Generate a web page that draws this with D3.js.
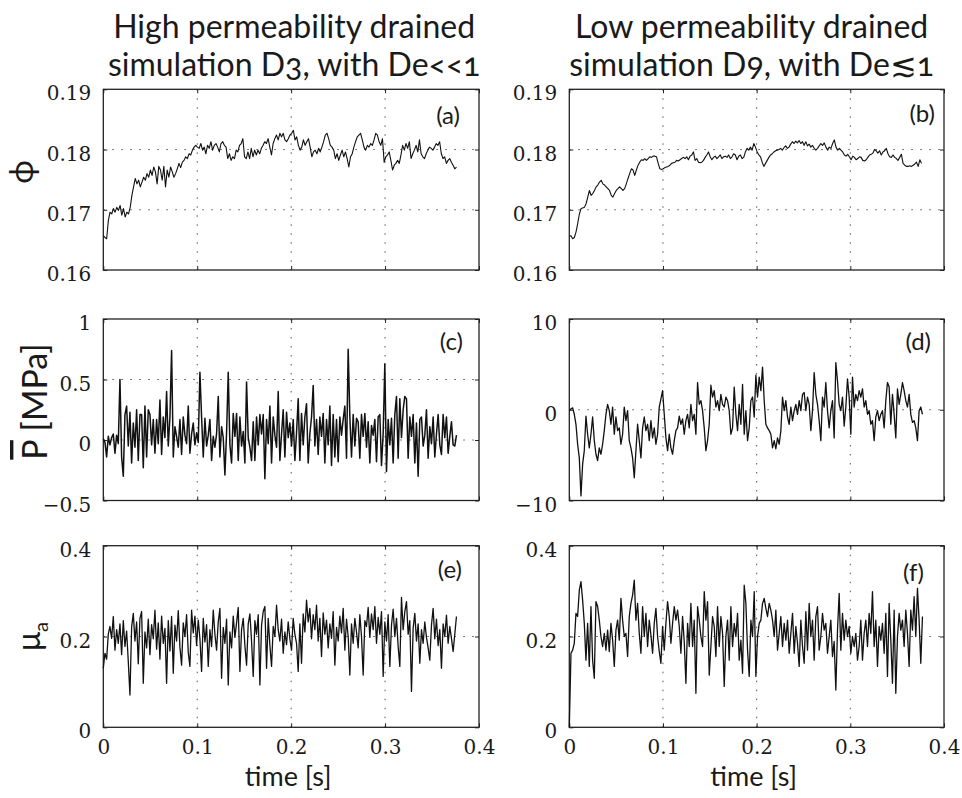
<!DOCTYPE html>
<html>
<head>
<meta charset="utf-8">
<script src="https://cdn.jsdelivr.net/npm/d3@7"></script>
<style>
  body { margin: 0; background: #fff; }
  .grid { stroke: #555; stroke-width: 1; stroke-dasharray: 1.5, 7.5; }
  .frame { fill: none; stroke: #222; stroke-width: 1.3; }
  .trace { fill: none; stroke: #111; stroke-linejoin: round; }
  .sans { font-family: Lato, "Open Sans", sans-serif; fill: #1a1a1a; font-variant-numeric: oldstyle-nums; }
  .tick text { font-family: "DejaVu Serif", "Liberation Serif", serif; font-size: 20px; fill: #1a1a1a; }
</style>
</head>
<body>
<svg id="chart" width="962" height="798"></svg>
<script>
// porosity, high permeability (a)
var phiHigh = [0.1657,0.1654,0.1652,0.1682,0.1696,0.1693,0.1702,0.1696,0.1704,0.1699,0.1707,0.1691,0.1702,0.1688,0.1696,0.1693,0.1704,0.1724,0.1738,0.1752,0.1743,0.1749,0.1738,0.1746,0.1754,0.1749,0.1760,0.1754,0.1766,0.1757,0.1771,0.1763,0.1743,0.1772,0.1766,0.1749,0.1772,0.1738,0.1766,0.1754,0.1771,0.1763,0.1754,0.1760,0.1768,0.1777,0.1770,0.1779,0.1782,0.1788,0.1785,0.1793,0.1791,0.1799,0.1804,0.1807,0.1804,0.1802,0.1810,0.1799,0.1804,0.1793,0.1807,0.1802,0.1813,0.1799,0.1807,0.1810,0.1804,0.1796,0.1810,0.1813,0.1807,0.1804,0.1785,0.1793,0.1782,0.1788,0.1785,0.1799,0.1796,0.1807,0.1810,0.1818,0.1788,0.1785,0.1796,0.1785,0.1802,0.1788,0.1799,0.1791,0.1799,0.1793,0.1802,0.1807,0.1813,0.1810,0.1818,0.1804,0.1791,0.1810,0.1818,0.1824,0.1816,0.1827,0.1821,0.1827,0.1816,0.1813,0.1818,0.1824,0.1827,0.1832,0.1816,0.1821,0.1807,0.1799,0.1804,0.1816,0.1807,0.1813,0.1818,0.1804,0.1788,0.1796,0.1799,0.1793,0.1802,0.1796,0.1804,0.1813,0.1824,0.1827,0.1818,0.1807,0.1804,0.1799,0.1785,0.1793,0.1782,0.1791,0.1799,0.1788,0.1796,0.1785,0.1771,0.1788,0.1793,0.1804,0.1813,0.1821,0.1824,0.1827,0.1816,0.1804,0.1799,0.1807,0.1804,0.1810,0.1807,0.1816,0.1827,0.1824,0.1813,0.1807,0.1818,0.1779,0.1788,0.1791,0.1796,0.1782,0.1766,0.1774,0.1777,0.1782,0.1777,0.1791,0.1807,0.1799,0.1810,0.1802,0.1813,0.1785,0.1793,0.1799,0.1807,0.1796,0.1816,0.1793,0.1788,0.1785,0.1793,0.1799,0.1804,0.1802,0.1799,0.1804,0.1810,0.1807,0.1813,0.1793,0.1785,0.1788,0.1777,0.1782,0.1785,0.1779,0.1774,0.1768,0.1771];

// porosity, low permeability (b)
var phiLow = [0.1656,0.1657,0.1652,0.1654,0.1663,0.1677,0.1693,0.1702,0.1703,0.1704,0.1710,0.1721,0.1732,0.1724,0.1727,0.1732,0.1738,0.1741,0.1746,0.1749,0.1743,0.1741,0.1738,0.1735,0.1732,0.1724,0.1721,0.1727,0.1732,0.1735,0.1738,0.1735,0.1732,0.1735,0.1743,0.1752,0.1760,0.1768,0.1766,0.1757,0.1766,0.1774,0.1779,0.1783,0.1782,0.1785,0.1782,0.1785,0.1788,0.1787,0.1789,0.1789,0.1788,0.1777,0.1768,0.1767,0.1768,0.1770,0.1771,0.1772,0.1774,0.1777,0.1778,0.1779,0.1782,0.1781,0.1783,0.1785,0.1787,0.1785,0.1788,0.1783,0.1789,0.1791,0.1796,0.1782,0.1785,0.1779,0.1778,0.1779,0.1782,0.1787,0.1791,0.1796,0.1788,0.1783,0.1787,0.1789,0.1785,0.1788,0.1791,0.1785,0.1788,0.1789,0.1787,0.1791,0.1785,0.1788,0.1793,0.1791,0.1783,0.1789,0.1791,0.1785,0.1787,0.1796,0.1802,0.1799,0.1804,0.1799,0.1810,0.1804,0.1796,0.1791,0.1788,0.1779,0.1772,0.1777,0.1782,0.1787,0.1791,0.1793,0.1796,0.1798,0.1799,0.1800,0.1802,0.1799,0.1803,0.1806,0.1802,0.1804,0.1809,0.1813,0.1810,0.1814,0.1811,0.1815,0.1810,0.1813,0.1807,0.1813,0.1806,0.1809,0.1804,0.1807,0.1802,0.1799,0.1802,0.1806,0.1810,0.1807,0.1811,0.1804,0.1799,0.1804,0.1802,0.1810,0.1816,0.1804,0.1799,0.1802,0.1799,0.1796,0.1791,0.1789,0.1792,0.1788,0.1783,0.1789,0.1787,0.1783,0.1785,0.1788,0.1787,0.1782,0.1781,0.1783,0.1787,0.1791,0.1792,0.1794,0.1800,0.1798,0.1794,0.1798,0.1791,0.1796,0.1798,0.1802,0.1793,0.1788,0.1787,0.1791,0.1787,0.1785,0.1782,0.1787,0.1792,0.1777,0.1774,0.1772,0.1772,0.1773,0.1772,0.1774,0.1776,0.1779,0.1772,0.1783,0.1777];

// mean pore pressure [MPa], high permeability (c)
var presHigh = [0.01,-0.02,-0.14,0.03,-0.04,0.02,0.05,-0.11,0.04,-0.03,0.50,-0.14,-0.30,0.21,0.28,-0.05,0.23,-0.19,0.14,-0.06,0.25,-0.17,0.21,0.21,-0.23,0.28,-0.14,0.25,0.21,-0.04,0.17,-0.11,0.17,-0.03,0.33,-0.12,0.19,0.02,0.40,-0.05,0.19,0.74,-0.14,0.11,0.03,-0.06,0.17,-0.12,0.19,0.04,-0.03,0.28,-0.11,0.05,0.14,-0.04,0.06,-0.02,0.56,0.19,-0.14,0.18,-0.05,0.04,0.17,-0.17,0.03,-0.06,0.05,0.36,-0.14,0.11,0.02,-0.29,0.06,0.56,-0.04,-0.19,0.22,0.03,0.22,-0.17,0.19,-0.05,0.07,-0.19,0.48,0.02,-0.06,-0.17,0.15,-0.17,0.19,-0.04,0.21,0.05,0.21,-0.32,0.17,-0.03,0.28,-0.19,0.19,0.04,-0.06,0.40,-0.17,0.05,0.25,-0.14,0.23,0.02,0.14,-0.05,0.17,-0.17,0.06,0.34,-0.17,0.22,-0.04,0.19,0.30,-0.19,0.05,0.19,0.45,-0.05,0.17,-0.12,0.19,0.03,0.22,-0.19,0.17,-0.04,0.28,-0.21,0.21,-0.14,0.17,-0.18,0.19,0.04,0.17,0.28,-0.15,0.75,0.19,-0.14,0.21,-0.05,0.18,0.15,-0.15,0.21,0.03,0.22,-0.06,0.15,-0.19,0.12,0.04,0.17,-0.18,0.19,0.21,-0.21,0.05,0.63,-0.26,0.17,-0.04,0.18,-0.19,0.21,0.36,-0.15,0.34,0.02,0.25,0.36,0.34,-0.15,0.19,0.03,0.21,-0.19,0.14,-0.30,0.17,0.19,-0.05,0.04,0.25,-0.15,0.11,-0.03,0.19,-0.14,0.05,0.21,-0.04,-0.12,0.21,0.02,0.19,-0.11,0.03,0.15,-0.04,-0.05,0.04];

// mean pore pressure [MPa], low permeability (d)
var presLow = [-0.1,0.1,0.2,-0.5,-1.6,-3.8,-5.3,-9.5,-6.0,-4.5,-0.7,-2.7,-4.2,-2.7,-0.8,-3.4,-4.9,-5.6,-4.2,-4.9,-3.8,-2.3,-0.5,0.6,-0.1,-1.6,0.3,-2.7,-0.8,-2.3,-2.0,-3.8,-2.7,0.3,-1.2,-0.1,-3.4,-4.2,-5.3,-7.5,-4.5,-1.6,-3.4,-5.3,-2.0,-0.8,-2.3,-1.6,-3.4,-1.2,-3.1,-2.0,-3.8,-2.7,0.3,1.2,2.1,-0.5,-3.1,-4.5,-2.7,-4.2,-4.9,-3.4,-2.3,-2.0,-0.7,-1.6,-1.0,-2.7,-1.2,-0.5,-2.0,0.6,-1.2,-0.5,-2.7,3.0,0.6,1.0,-0.1,-2.0,-4.5,-3.4,-1.6,2.7,1.4,2.1,0.3,1.0,-0.1,1.7,0.6,0.3,1.4,1.0,-0.1,-2.7,-2.0,2.5,-0.5,-2.3,0.6,-1.6,2.8,-2.7,-0.1,-3.4,-2.0,1.0,1.4,-0.8,3.8,1.4,3.6,2.1,4.7,1.0,-1.6,-2.0,-2.3,-2.7,-4.2,-3.4,-4.3,-3.1,-3.8,-2.3,1.4,-0.1,1.0,-0.8,-1.6,0.3,-1.2,-0.1,0.6,-0.5,1.0,-0.1,1.7,1.9,-0.1,1.4,0.6,-2.3,-0.1,4.1,1.7,0.6,-1.2,-3.4,1.4,0.3,3.0,-0.1,-2.0,-0.1,1.0,-3.1,5.2,3.2,0.6,-0.1,1.4,-1.8,0.3,3.4,1.4,-2.7,3.6,0.3,1.7,1.0,2.1,1.4,2.3,0.3,1.0,-0.5,-0.1,-1.6,-1.2,-3.4,-0.8,-0.1,-1.2,-0.5,-0.1,-2.0,1.0,3.0,2.5,-1.6,1.7,-0.5,-3.1,2.3,0.6,1.7,3.0,2.1,1.0,0.3,1.7,-0.5,-1.4,-1.2,-2.0,-3.4,-0.1,0.3,-0.5];

// apparent friction, high permeability (e)
var muHigh = [0.130,0.163,0.150,0.205,0.222,0.196,0.244,0.170,0.215,0.185,0.228,0.160,0.235,0.178,0.212,0.145,0.071,0.220,0.251,0.190,0.232,0.140,0.240,0.255,0.097,0.210,0.175,0.238,0.160,0.226,0.195,0.258,0.172,0.230,0.150,0.245,0.185,0.218,0.097,0.235,0.168,0.244,0.119,0.225,0.190,0.257,0.176,0.137,0.230,0.200,0.248,0.165,0.134,0.258,0.208,0.245,0.180,0.236,0.195,0.123,0.240,0.188,0.226,0.134,0.215,0.178,0.258,0.205,0.170,0.232,0.262,0.108,0.220,0.185,0.238,0.093,0.210,0.175,0.245,0.198,0.230,0.264,0.123,0.215,0.240,0.180,0.137,0.228,0.250,0.190,0.112,0.235,0.205,0.248,0.093,0.225,0.255,0.266,0.130,0.240,0.180,0.134,0.222,0.200,0.269,0.215,0.190,0.238,0.163,0.210,0.182,0.232,0.195,0.170,0.240,0.205,0.185,0.123,0.228,0.141,0.250,0.210,0.280,0.232,0.262,0.195,0.248,0.215,0.269,0.190,0.240,0.156,0.252,0.205,0.236,0.175,0.228,0.196,0.255,0.137,0.220,0.190,0.245,0.208,0.262,0.170,0.238,0.200,0.115,0.228,0.185,0.240,0.210,0.175,0.248,0.200,0.115,0.235,0.222,0.264,0.198,0.250,0.215,0.266,0.185,0.242,0.205,0.255,0.112,0.232,0.190,0.248,0.134,0.225,0.260,0.200,0.240,0.178,0.134,0.286,0.215,0.255,0.277,0.205,0.235,0.079,0.218,0.251,0.190,0.228,0.141,0.215,0.185,0.232,0.198,0.175,0.148,0.225,0.262,0.195,0.238,0.180,0.215,0.130,0.228,0.200,0.247,0.185,0.222,0.196,0.167,0.205,0.244];

// apparent friction, low permeability (f)
var muLow = [0.000,0.163,0.170,0.185,0.251,0.244,0.302,0.321,0.280,0.229,0.148,0.229,0.134,0.266,0.148,0.108,0.277,0.266,0.236,0.200,0.178,0.207,0.170,0.214,0.167,0.229,0.192,0.134,0.214,0.236,0.192,0.284,0.236,0.200,0.207,0.156,0.244,0.273,0.291,0.324,0.236,0.273,0.207,0.163,0.266,0.200,0.251,0.178,0.236,0.203,0.163,0.229,0.262,0.200,0.167,0.141,0.222,0.170,0.229,0.277,0.244,0.185,0.229,0.266,0.236,0.258,0.222,0.163,0.244,0.189,0.097,0.229,0.178,0.273,0.178,0.236,0.075,0.266,0.236,0.200,0.178,0.299,0.236,0.277,0.115,0.178,0.244,0.222,0.156,0.266,0.178,0.244,0.207,0.090,0.200,0.236,0.148,0.266,0.178,0.229,0.200,0.251,0.148,0.192,0.119,0.313,0.273,0.170,0.112,0.236,0.200,0.299,0.112,0.200,0.229,0.236,0.273,0.284,0.262,0.244,0.273,0.258,0.236,0.200,0.258,0.170,0.207,0.244,0.178,0.229,0.192,0.236,0.163,0.207,0.251,0.163,0.222,0.185,0.134,0.236,0.178,0.141,0.255,0.170,0.273,0.200,0.236,0.148,0.244,0.266,0.170,0.200,0.251,0.214,0.229,0.163,0.200,0.236,0.156,0.189,0.082,0.214,0.295,0.170,0.251,0.192,0.236,0.200,0.222,0.163,0.200,0.178,0.207,0.148,0.178,0.236,0.148,0.207,0.236,0.178,0.251,0.207,0.299,0.178,0.236,0.134,0.222,0.192,0.229,0.163,0.251,0.112,0.273,0.192,0.097,0.258,0.075,0.200,0.251,0.214,0.236,0.178,0.258,0.207,0.134,0.258,0.214,0.288,0.200,0.306,0.236,0.141,0.244];

// tick values
var timeTicks = [0, 0.1, 0.2, 0.3, 0.4];
var phiTicks = [0.16, 0.17, 0.18, 0.19];
var presHighTicks = [-0.5, 0, 0.5, 1];
var presLowTicks = [-10, 0, 10];
var muTicks = [0, 0.2, 0.4];

var titles = [
  ['High permeability drained', 'simulation D3, with De<<1'],
  ['Low permeability drained', 'simulation D9, with De\u22721']
];

// layout of the 3x2 grid of axes
var cols = [{x0: 103.3, x1: 479}, {x0: 569.3, x1: 944}];
var rows = [{y0: 89.3, y1: 270}, {y0: 319, y1: 500.5}, {y0: 545.7, y1: 727.3}];

var panels = [
  {name: '(a)', col: 0, row: 0, values: phiHigh, domain: [0.16, 0.19], ticks: phiTicks, tEnd: 0.376, lw: 1.1, lx: -19, ly: 35},
  {name: '(b)', col: 1, row: 0, values: phiLow, domain: [0.16, 0.19], ticks: phiTicks, tEnd: 0.376, lw: 1.1, lx: -9, ly: 33},
  {name: '(c)', col: 0, row: 1, values: presHigh, domain: [-0.5, 1], ticks: presHighTicks, tEnd: 0.376, lw: 1.5, lx: -16, ly: 31},
  {name: '(d)', col: 1, row: 1, values: presLow, domain: [-10, 10], ticks: presLowTicks, tEnd: 0.377, lw: 1.3, lx: -13, ly: 31},
  {name: '(e)', col: 0, row: 2, values: muHigh, domain: [0, 0.4], ticks: muTicks, tEnd: 0.376, lw: 1.3, lx: -17, ly: 32},
  {name: '(f)', col: 1, row: 2, values: muLow, domain: [0, 0.4], ticks: muTicks, tEnd: 0.377, lw: 1.3, lx: -20, ly: 35}
];

function fmt(d) {
  return d < 0 ? '\u2212' + Math.abs(d) : String(d);
}

var svg = d3.select('#chart');

panels.forEach(function(p) {
  var c = cols[p.col];
  var r = rows[p.row];
  var x = d3.scaleLinear().domain([0, 0.4]).range([c.x0, c.x1]);
  var y = d3.scaleLinear().domain(p.domain).range([r.y1, r.y0]);
  var g = svg.append('g');

  // dotted grid
  g.selectAll('line.gx')
    .data(timeTicks.slice(1, -1)).enter().append('line')
      .attr('class', 'grid')
      .attr('x1', d => x(d)).attr('x2', d => x(d))
      .attr('y1', r.y0).attr('y2', r.y1);
  g.selectAll('line.gy')
    .data(p.ticks.slice(1, -1)).enter().append('line')
      .attr('class', 'grid')
      .attr('x1', c.x0).attr('x2', c.x1)
      .attr('y1', d => y(d)).attr('y2', d => y(d));

  // axes, ticks pointing inward
  g.append('g')
      .attr('transform', 'translate(' + c.x0 + ',0)')
      .call(d3.axisLeft(y).tickValues(p.ticks).tickSizeInner(-4)
            .tickSizeOuter(0).tickPadding(12).tickFormat(fmt))
      .style('color', '#222')
      .call(a => a.select('.domain').remove())
      .call(a => a.selectAll('text').attr('dy', 10.5));

  g.append('g')
      .attr('transform', 'translate(' + c.x1 + ',0)')
      .call(d3.axisRight(y).tickValues(p.ticks).tickSizeInner(-4)
            .tickSizeOuter(0).tickFormat(''))
      .style('color', '#222')
      .call(a => a.select('.domain').remove());

  g.append('g')
      .attr('transform', 'translate(0,' + r.y0 + ')')
      .call(d3.axisTop(x).tickValues(timeTicks).tickSizeInner(-4)
            .tickSizeOuter(0).tickFormat(''))
      .style('color', '#222')
      .call(a => a.select('.domain').remove());

  g.append('g')
      .attr('transform', 'translate(0,' + r.y1 + ')')
      .call(d3.axisBottom(x).tickValues(timeTicks).tickSizeInner(-4)
            .tickSizeOuter(0).tickFormat(p.row === 2 ? fmt : ''))
      .style('color', '#222')
      .call(a => a.select('.domain').remove())
      .call(a => a.selectAll('text').attr('y', 26.5).attr('dy', 0));

  g.append('rect')
      .attr('class', 'frame')
      .attr('x', c.x0).attr('y', r.y0)
      .attr('width', c.x1 - c.x0).attr('height', r.y1 - r.y0);

  var n = p.values.length;
  var line = d3.line()
      .x((d, i) => x(p.tEnd * i / (n - 1)))
      .y(d => y(d));
  g.append('path')
      .datum(p.values)
      .attr('class', 'trace')
      .attr('stroke-width', p.lw)
      .attr('d', line);

  g.append('text')
      .attr('class', 'sans')
      .attr('x', c.x1 + p.lx)
      .attr('y', r.y0 + p.ly)
      .attr('text-anchor', 'end')
      .attr('font-size', 24)
      .text(p.name);

  if (p.row === 2) {
    g.append('text')
        .attr('class', 'sans')
        .attr('x', (c.x0 + c.x1) / 2 - 3)
        .attr('y', 785.5)
        .attr('text-anchor', 'middle')
        .attr('font-size', 27)
        .text('time [s]');
  }
});

// column titles
titles.forEach(function(lines, i) {
  var cx = (cols[i].x0 + cols[i].x1) / 2 + (i === 0 ? 3 : -5);
  svg.selectAll(null)
    .data(lines).enter().append('text')
      .attr('class', 'sans')
      .attr('x', cx)
      .attr('y', (d, j) => 38 + j * 38)
      .attr('text-anchor', 'middle')
      .attr('font-size', 32)
      .text(d => d);
});

// y labels
svg.append('text')
    .attr('class', 'sans')
    .attr('transform', 'translate(33,172) rotate(-90)')
    .attr('text-anchor', 'middle')
    .attr('font-size', 32)
    .text('\u03D5');

var pl = svg.append('text')
    .attr('class', 'sans')
    .attr('transform', 'translate(47,401.5) rotate(-90)')
    .attr('text-anchor', 'middle')
    .attr('font-size', 34);
pl.append('tspan').style('text-decoration', 'overline').text('P');
pl.append('tspan').text(' [MPa]');

var mu = svg.append('text')
    .attr('class', 'sans')
    .attr('transform', 'translate(40,651) rotate(-90)')
    .attr('font-size', 32);
mu.append('tspan').text('\u03BC');
mu.append('tspan').attr('font-size', 20).attr('dy', 8).text('a');
</script>
</body>
</html>
